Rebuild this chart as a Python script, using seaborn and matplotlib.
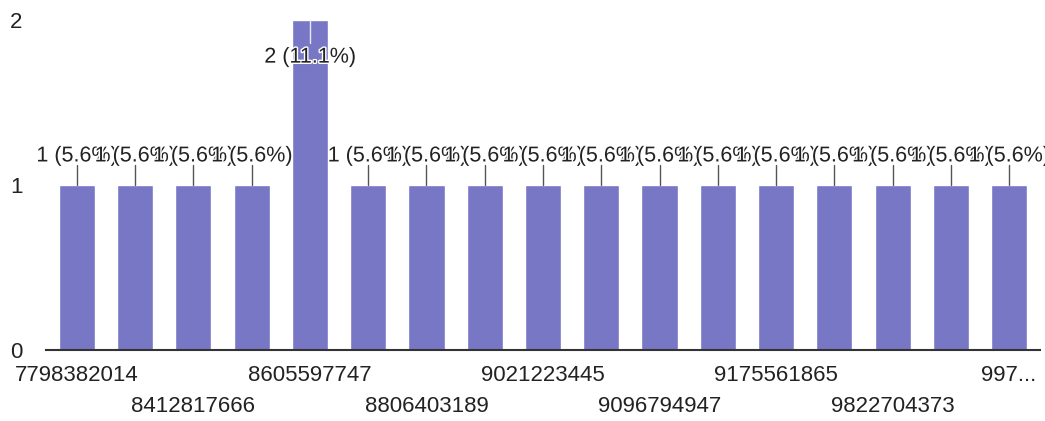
import matplotlib
matplotlib.use("Agg")
import matplotlib.pyplot as plt
import matplotlib.patheffects as pe
from matplotlib.transforms import ScaledTranslation
import seaborn as sns
import pandas as pd

# Data (odd-position categories are hidden in the reference; placeholders keep order)
categories = ["7798382014", "8010447352", "8412817666", "8552190638", "8605597747",
              "8766021954", "8806403189", "8983315720", "9021223445", "9049862137",
              "9096794947", "9130478826", "9175561865", "9518236604", "9822704373",
              "9890513427", "9970000000"]
values = [1, 1, 1, 1, 2, 1, 1, 1, 1, 1, 1, 1, 1, 1, 1, 1, 1]
tick_labels = ["7798382014", "", "8412817666", "", "8605597747", "", "8806403189", "",
               "9021223445", "", "9096794947", "", "9175561865", "", "9822704373", "",
               "997..."]
y_ticks = [0, 1, 2]

total = sum(values)
bar_color = "#7777c6"

sns.set_theme(style="white")
plt.rcParams['font.family'] = ['Liberation Sans', 'DejaVu Sans']

fig = plt.figure(figsize=(10.45, 4.21), dpi=100)
ax = fig.add_axes([46 / 1045, 71 / 421, (1040 - 46) / 1045, 330 / 421])

df = pd.DataFrame({"cat": categories, "val": values})
sns.barplot(data=df, x="cat", y="val", order=categories, color=bar_color,
            saturation=1, width=0.62, ax=ax)

ax.set_xlim(-0.53, len(categories) - 0.47)
ax.set_ylim(0, 2)
for s in ["top", "right", "left"]:
    ax.spines[s].set_visible(False)
ax.spines["bottom"].set_color("#333333")
ax.spines["bottom"].set_linewidth(1.5)
ax.set_xlabel("")
ax.set_ylabel("")

ax.set_yticks(y_ticks)
ax.set_yticklabels([str(t) for t in y_ticks], fontsize=16, color="#222222")
ax.tick_params(axis="y", length=0, pad=17)

ax.set_xticks(range(len(categories)))
ax.set_xticklabels(tick_labels, fontsize=16, color="#222222")
ax.tick_params(axis="x", length=0, pad=11)
for i, lbl in enumerate(ax.get_xticklabels()):
    if i % 4 == 2:
        lbl.set_transform(lbl.get_transform() +
                          ScaledTranslation(0, -31 / 100, fig.dpi_scale_trans))

vmax = max(values)
for i, v in enumerate(values):
    pct = v / total * 100
    txt = f"{v} ({pct:.1f}%)"
    if v == vmax:
        ax.plot([i, i], [v, v - 0.14], color="#e8e8f4", lw=1, zorder=5, clip_on=False)
        ty = v - 0.225
    else:
        ax.plot([i, i], [v, v + 0.12], color="#555555", lw=1, zorder=5, clip_on=False)
        ty = v + 0.176
    ax.text(i, ty, txt, ha="center", va="center", fontsize=15.5, color="#222222",
            zorder=10 + i, clip_on=False,
            path_effects=[pe.withStroke(linewidth=2, foreground="white")])

fig.savefig("out.png", dpi=100, facecolor="white")
